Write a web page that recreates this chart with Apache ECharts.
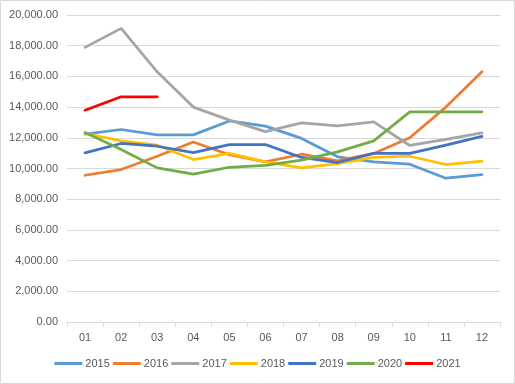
<!DOCTYPE html>
<html>
<head>
<meta charset="utf-8">
<script src="https://cdn.jsdelivr.net/npm/echarts@6/dist/echarts.min.js"></script>
<style>
html,body{margin:0;padding:0;background:#fff;}
#c{width:515px;height:384px;}
</style>
</head>
<body>
<div id="c"></div>
<script>
var months = ['01','02','03','04','05','06','07','08','09','10','11','12'];
var years = ['2015','2016','2017','2018','2019','2020','2021'];
var colors = ['#5B9BD5','#ED7D31','#A5A5A5','#FFC000','#4472C4','#70AD47','#FF0000'];
var s2015 = [12240,12540,12190,12190,13100,12760,11960,10760,10430,10280,9370,9600];
var s2016 = [9560,9930,10800,11730,10900,10430,10930,10500,10980,12000,14000,16300];
var s2017 = [17890,19130,16300,14000,13150,12400,12970,12780,13040,11500,11900,12320];
var s2018 = [12280,11800,11520,10580,10980,10430,10040,10320,10720,10800,10260,10480];
var s2019 = [11020,11630,11450,11040,11560,11560,10720,10390,10980,10980,11520,12090];
var s2020 = [12350,11240,10040,9630,10080,10210,10540,11080,11800,13690,13690,13690];
var s2021 = [13800,14670,14670];
var yTicks = {min:0, max:20000, interval:2000};

var allData = [s2015,s2016,s2017,s2018,s2019,s2020,s2021];
var series = years.map(function(y,i){
  return {
    name: y, type: 'line', data: allData[i], showSymbol: false, symbol: 'none',
    lineStyle: {width: 2.75, color: colors[i], cap: 'round', join: 'round'},
    itemStyle: {color: colors[i]},
    emphasis: {disabled: true}, animation: false
  };
});

var chart = echarts.init(document.getElementById('c'), null, {renderer: 'canvas'});
chart.setOption({
  animation: false,
  color: colors,
  grid: {left: 67, right: 15, top: 15, bottom: 62, containLabel: false},
  graphic: [{type: 'rect', shape: {x: 0.5, y: 0.5, width: 514, height: 383},
    style: {fill: 'none', stroke: '#d9d9d9', lineWidth: 1}, silent: true, z: -1}],
  xAxis: {
    type: 'category', data: months, boundaryGap: true,
    axisLine: {show: true, lineStyle: {color: '#d9d9d9', width: 1}},
    axisTick: {show: true, length: 5, alignWithLabel: false, lineStyle: {color: '#d9d9d9'}},
    axisLabel: {color: '#595959', fontSize: 11, fontFamily: 'Liberation Sans', margin: 10},
    splitLine: {show: false}
  },
  yAxis: {
    type: 'value', min: yTicks.min, max: yTicks.max, interval: yTicks.interval,
    axisLine: {show: false}, axisTick: {show: false},
    axisLabel: {color: '#595959', fontSize: 11, fontFamily: 'Liberation Sans', margin: 9,
      formatter: function(v){ return v.toLocaleString('en-US',{minimumFractionDigits:2, maximumFractionDigits:2}); }},
    splitLine: {lineStyle: {color: '#d9d9d9', width: 1}}
  },
  legend: {
    data: years.map(function(y,i){return {name: y, icon: 'rect', itemStyle: {color: colors[i]}};}),
    bottom: 10, left: 'center', itemWidth: 28, itemHeight: 3, itemGap: 3,
    textStyle: {color: '#595959', fontSize: 11, fontFamily: 'Liberation Sans', padding: [0, 0, 0, -2]},
    selectedMode: false
  },
  series: series
});
</script>
</body>
</html>
